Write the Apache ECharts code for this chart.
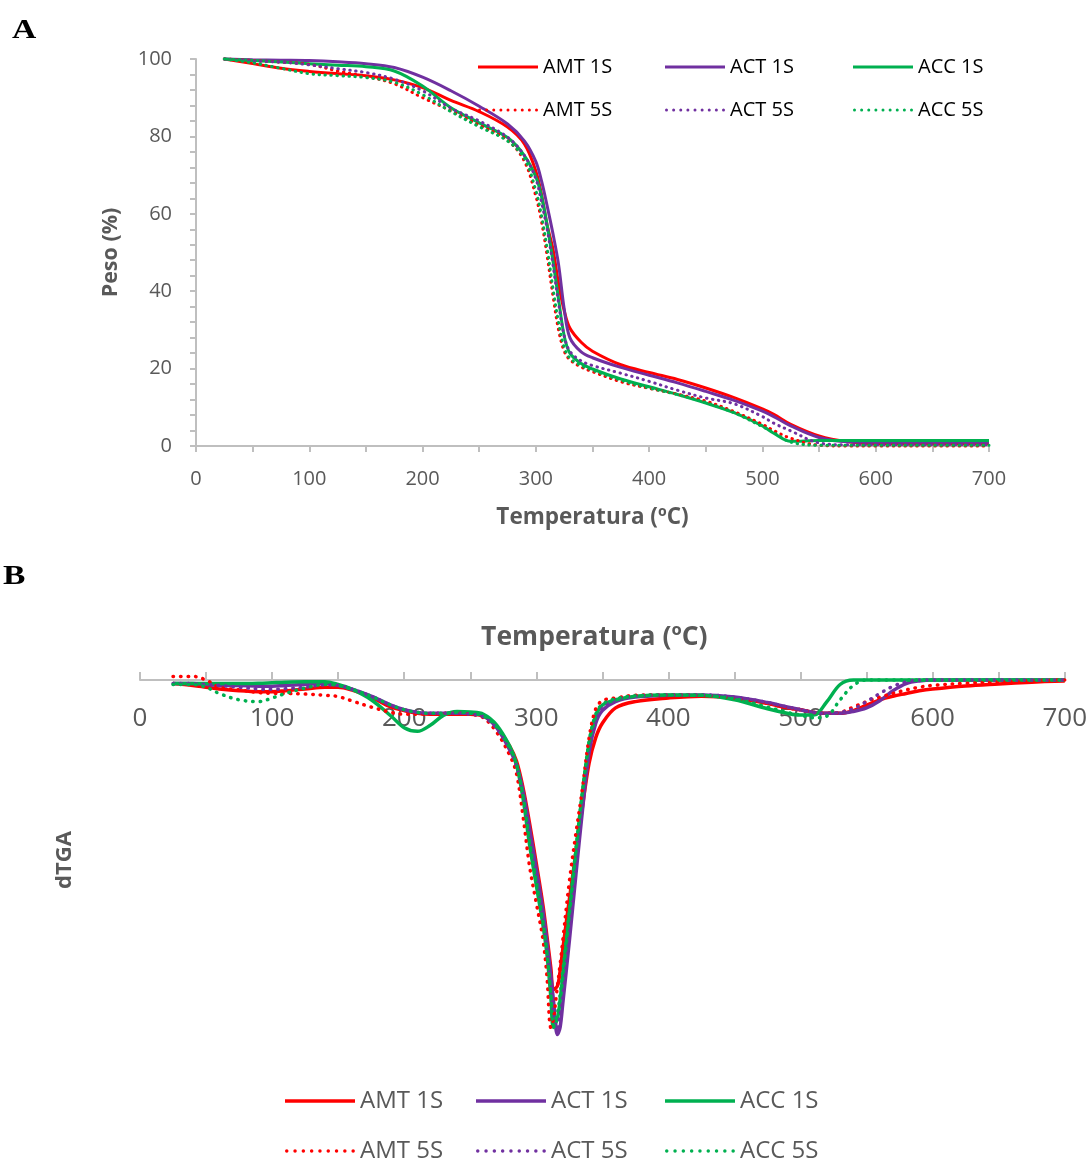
<!DOCTYPE html>
<html>
<head>
<meta charset="utf-8">
<script src="https://cdn.jsdelivr.net/npm/echarts@6/dist/echarts.min.js"></script>
<style>
html,body{margin:0;padding:0;background:#fff;}
#chart{width:1090px;height:1160px;}
</style>
</head>
<body>
<div id="chart"></div>
<script>
// ---------- Panel A : TGA (Peso %) ----------
const TEMP_A = [25,50,75,100,125,150,175,200,225,250,275,290,300,305,310,315,320,325,330,340,350,375,400,425,450,475,500,510,525,550,575,600,650,700];
const AMT_1S_A = [100,98.8,97.6,96.8,96.2,95.7,94.6,92.6,89.3,86.4,82.4,78.0,71.0,65.0,57.0,51.0,42.0,35.0,30.5,26.8,24.5,21.0,19.0,17.2,15.0,12.5,9.6,8.2,5.6,2.6,1.1,0.6,0.6,0.6];
const ACT_1S_A = [100,99.8,99.7,99.6,99.3,98.8,97.8,95.3,91.8,87.8,83.2,78.8,73.5,68.5,62.0,55.0,47.0,35.5,28.0,24.3,22.8,20.3,18.3,16.3,14.1,11.8,9.0,7.6,5.2,2.2,1.1,1.0,1.0,1.0];
const ACC_1S_A = [100,99.6,99.2,98.8,98.4,98.0,96.9,93.0,87.4,83.5,79.7,75.0,69.5,64.5,57.0,48.0,38.0,28.5,24.0,21.3,19.9,17.3,15.3,13.3,11.1,8.6,5.2,3.3,1.2,1.4,1.4,1.4,1.4,1.4];
const AMT_5S_A = [100,99.6,99.2,98.6,96.9,95.5,93.6,90.0,86.6,82.9,79.0,73.5,64.5,58.0,49.0,39.0,30.0,24.5,22.3,20.4,19.2,16.6,14.9,13.4,11.6,8.9,5.6,4.0,2.0,0.2,0,0,0,0];
const ACT_5S_A = [100,99.5,99.2,98.5,97.5,96.5,94.8,91.8,87.3,84.0,79.8,75.0,69.0,63.0,56.0,47.0,37.0,28.5,24.5,22.0,20.8,18.8,16.7,14.4,12.4,10.9,7.6,5.9,3.9,0.8,0.3,0.3,0.3,0.3];
const ACC_5S_A = [100,99.0,97.6,96.2,95.7,95.2,94.0,90.8,86.4,82.5,78.8,74.2,66.0,59.5,51.0,41.0,32.0,25.5,22.7,20.8,19.6,17.0,15.0,13.3,11.2,8.6,5.0,3.5,1.0,0.2,0.2,0.2,0.2,0.2];

// ---------- Panel B : dTGA ----------
const TEMP_B = [25,40,50,60,75,90,100,110,125,140,150,160,175,190,200,210,220,230,240,250,260,270,280,285,290,295,300,305,308,311,313,316,318,320,325,330,335,340,345,350,360,375,400,425,450,475,490,500,510,520,530,540,550,560,570,580,590,600,625,650,675,700];
const AMT_1S_B = [-0.02,-0.03,-0.04,-0.05,-0.06,-0.065,-0.065,-0.06,-0.05,-0.04,
  -0.04,-0.055,-0.095,-0.15,-0.17,-0.185,-0.19,-0.19,-0.19,-0.19,
  -0.20,-0.26,-0.37,-0.45,-0.60,-0.80,-1.02,-1.25,-1.42,-1.60,
  -1.72,-1.70,-1.62,-1.50,-1.22,-0.96,-0.70,-0.46,-0.32,-0.24,
  -0.155,-0.12,-0.10,-0.09,-0.10,-0.13,-0.155,-0.165,-0.18,-0.185,
  -0.185,-0.17,-0.14,-0.11,-0.09,-0.075,-0.06,-0.05,-0.033,-0.022,
  -0.012,-0.005];
const ACT_1S_B = [-0.02,-0.02,-0.025,-0.03,-0.03,-0.035,-0.035,-0.03,-0.025,-0.02,
  -0.03,-0.05,-0.09,-0.14,-0.165,-0.18,-0.185,-0.185,-0.185,-0.185,
  -0.20,-0.265,-0.39,-0.47,-0.62,-0.83,-1.05,-1.28,-1.45,-1.64,
  -1.78,-1.97,-1.93,-1.80,-1.45,-1.08,-0.72,-0.40,-0.24,-0.17,
  -0.12,-0.095,-0.085,-0.083,-0.095,-0.125,-0.15,-0.165,-0.18,-0.185,
  -0.185,-0.175,-0.155,-0.115,-0.06,-0.02,-0.005,0,0,0,
  0,0];
const ACC_1S_B = [-0.02,-0.02,-0.02,-0.02,-0.02,-0.018,-0.015,-0.012,-0.01,-0.01,
  -0.025,-0.05,-0.11,-0.20,-0.265,-0.285,-0.25,-0.195,-0.175,-0.178,
  -0.19,-0.25,-0.37,-0.47,-0.66,-0.92,-1.14,-1.36,-1.52,-1.76,
  -1.93,-1.88,-1.78,-1.65,-1.30,-0.95,-0.62,-0.35,-0.20,-0.14,
  -0.11,-0.09,-0.083,-0.085,-0.11,-0.16,-0.185,-0.195,-0.195,-0.12,
  -0.025,0,0,0,0,0,0,0,0,0,
  0,0];
const AMT_5S_B = [0.02,0.02,0.0,-0.04,-0.055,-0.07,-0.074,-0.075,-0.078,-0.085,
  -0.092,-0.115,-0.15,-0.18,-0.19,-0.19,-0.188,-0.185,-0.185,-0.19,
  -0.21,-0.29,-0.42,-0.52,-0.76,-1.04,-1.24,-1.44,-1.64,-1.93,
  -1.88,-1.70,-1.58,-1.45,-1.12,-0.85,-0.60,-0.32,-0.16,-0.115,
  -0.10,-0.085,-0.083,-0.085,-0.10,-0.13,-0.155,-0.165,-0.18,-0.185,
  -0.18,-0.15,-0.12,-0.095,-0.075,-0.055,-0.04,-0.03,-0.018,-0.01,
  -0.003,0];
const ACT_5S_B = [-0.02,-0.02,-0.025,-0.03,-0.04,-0.05,-0.052,-0.048,-0.04,-0.028,
  -0.03,-0.05,-0.09,-0.14,-0.165,-0.18,-0.185,-0.185,-0.185,-0.19,
  -0.205,-0.27,-0.39,-0.48,-0.64,-0.86,-1.08,-1.32,-1.50,-1.70,
  -1.85,-1.94,-1.86,-1.74,-1.40,-1.03,-0.68,-0.38,-0.22,-0.15,
  -0.11,-0.09,-0.083,-0.083,-0.095,-0.125,-0.15,-0.165,-0.18,-0.185,
  -0.18,-0.16,-0.12,-0.075,-0.035,-0.01,0,0,0,0,
  0,0];
const ACC_5S_B = [-0.025,-0.025,-0.04,-0.075,-0.11,-0.12,-0.10,-0.075,-0.045,-0.025,
  -0.03,-0.05,-0.09,-0.14,-0.165,-0.18,-0.185,-0.185,-0.18,-0.185,
  -0.20,-0.26,-0.38,-0.47,-0.65,-0.90,-1.12,-1.34,-1.52,-1.75,
  -1.92,-1.85,-1.75,-1.62,-1.28,-0.94,-0.62,-0.34,-0.19,-0.135,
  -0.105,-0.088,-0.083,-0.085,-0.105,-0.15,-0.18,-0.195,-0.21,-0.20,
  -0.11,-0.03,0,0,0,0,0,0,0,0,
  0,0];

const NAMES = ['AMT 1S','ACT 1S','ACC 1S','AMT 5S','ACT 5S','ACC 5S'];
const COLORS = ['#FF0000','#7030A0','#00B050','#FF0000','#7030A0','#00B050'];
const DATA_A = [AMT_1S_A, ACT_1S_A, ACC_1S_A, AMT_5S_A, ACT_5S_A, ACC_5S_A];
const DATA_B = [AMT_1S_B, ACT_1S_B, ACC_1S_B, AMT_5S_B, ACT_5S_B, ACC_5S_B];

const FONT = '"Open Sans"';
const AXIS_GRAY = '#BFBFBF';
const TEXT_GRAY = '#595959';

function mkSeries(idx, name, temps, arr, color, dotted, width, dotDash){
  return {
    name: name, type:'line', xAxisIndex: idx, yAxisIndex: idx,
    data: temps.map((t,i)=>[t, arr[i]]),
    smooth: 0.35, showSymbol:false, symbol:'none', clip:false,
    lineStyle:{color:color, width:width, type: dotted ? dotDash : 'solid', cap: dotted ? 'round':'butt'},
    itemStyle:{color:color}, z: dotted ? 3 : 2
  };
}
const series = [];
for (let i=0;i<6;i++) series.push(mkSeries(0, NAMES[i], TEMP_A, DATA_A[i], COLORS[i], i>=3, 3, [0.5,5.5]));
for (let i=0;i<6;i++) series.push(mkSeries(1, NAMES[i], TEMP_B, DATA_B[i], COLORS[i], i>=3, 3.5, [0.5,7]));

// legend icons (line samples) as paths
function solidIcon(w, h){ return 'path://M0,0H' + w + 'V' + h + 'H0Z'; }
function dotIcon(n, d, period){
  const r = d/2; let p = 'path://';
  for (let k=0;k<n;k++){
    const cx = r + k*period;
    p += 'M' + (cx-r) + ',' + r + 'a' + r + ',' + r + ' 0 1,0 ' + d + ',0a' + r + ',' + r + ' 0 1,0 ' + (-d) + ',0Z';
  }
  return p;
}
function legendItem(left, top, i, fs, lh, iw, th, textColor, nDots, period){
  return {
    orient:'horizontal', left:left, top:top, padding:0, selectedMode:false,
    itemWidth:iw, itemHeight:th, itemGap:0,
    textStyle:{fontFamily:FONT, fontSize:fs, lineHeight:lh, color:textColor},
    data:[{name:NAMES[i], icon: i>=3 ? dotIcon(nDots, th, period) : solidIcon(iw, th),
           itemStyle:{color:COLORS[i], borderWidth:0}}]
  };
}
const legends = [];
const colA = [478, 665, 853], rowA = [57, 100];
const colB = [285, 476, 665], rowB = [1088, 1138];
for (let i=0;i<6;i++){
  const c = i%3, r = Math.floor(i/3);
  legends.push(legendItem(colA[c], rowA[r], i, 20, 20, 60, 3, '#000', 9, 7.125));
}
for (let i=0;i<6;i++){
  const c = i%3, r = Math.floor(i/3);
  legends.push(legendItem(colB[c], rowB[r], i, 24, 26, 70, 3.5, TEXT_GRAY, 9, 8.3));
}

const option = {
  animation:false,
  backgroundColor:'#fff',
  graphic:[
    {type:'text', left:12, top:17, scaleX:1.2, originX:12, originY:17,
     style:{text:'A', font:'bold 28px "Liberation Serif"', fill:'#000'}},
    {type:'text', left:3, top:563, scaleX:1.2, originX:3, originY:563,
     style:{text:'B', font:'bold 28px "Liberation Serif"', fill:'#000'}}
  ],
  grid:[
    {left:196, top:59, width:793, height:387},
    {left:140, top:680, width:926, height:360}
  ],
  xAxis:[
    {gridIndex:0, type:'value', min:0, max:700, interval:100, position:'bottom',
     name:'Temperatura (ºC)', nameLocation:'middle', nameGap:60,
     nameTextStyle:{fontFamily:FONT, fontSize:22.5, fontWeight:'bold', color:TEXT_GRAY},
     axisLine:{show:true, lineStyle:{color:AXIS_GRAY, width:2}},
     axisTick:{show:true, length:6, lineStyle:{color:AXIS_GRAY, width:2}},
     minorTick:{show:true, splitNumber:2, length:6, lineStyle:{color:AXIS_GRAY, width:2}},
     axisLabel:{fontFamily:FONT, fontSize:20, color:TEXT_GRAY, margin:23},
     splitLine:{show:false}},
    {gridIndex:1, type:'value', min:0, max:700, interval:100, position:'top',
     name:'Temperatura (ºC)', nameLocation:'middle', nameGap:29,
     nameTextStyle:{fontFamily:FONT, fontSize:26.5, fontWeight:'bold', color:TEXT_GRAY, padding:[0,16,0,0]},
     axisLine:{show:true, onZero:false, lineStyle:{color:AXIS_GRAY, width:2}},
     axisTick:{show:true, length:8, lineStyle:{color:AXIS_GRAY, width:2}},
     minorTick:{show:true, splitNumber:2, length:8, lineStyle:{color:AXIS_GRAY, width:2}},
     axisLabel:{inside:true, fontFamily:FONT, fontSize:26, color:TEXT_GRAY, margin:26},
     splitLine:{show:false}}
  ],
  yAxis:[
    {gridIndex:0, type:'value', min:0, max:100, interval:20,
     name:'Peso (%)', nameLocation:'middle', nameGap:74,
     nameTextStyle:{fontFamily:FONT, fontSize:21.5, fontWeight:'bold', color:TEXT_GRAY},
     axisLine:{show:true, lineStyle:{color:AXIS_GRAY, width:2}},
     axisTick:{show:true, length:6, lineStyle:{color:AXIS_GRAY, width:2}},
     minorTick:{show:true, splitNumber:5, length:6, lineStyle:{color:AXIS_GRAY, width:2}},
     axisLabel:{fontFamily:FONT, fontSize:20, color:TEXT_GRAY, margin:24},
     splitLine:{show:false}},
    {gridIndex:1, type:'value', min:-2, max:0,
     name:'dTGA', nameLocation:'middle', nameGap:64,
     nameTextStyle:{fontFamily:FONT, fontSize:22, fontWeight:'bold', color:TEXT_GRAY},
     axisLine:{show:false}, axisTick:{show:false}, axisLabel:{show:false}, splitLine:{show:false}}
  ],
  legend: legends,
  series: series
};
const chart = echarts.init(document.getElementById('chart'), null, {renderer:'canvas'});
chart.setOption(option);
</script>
</body>
</html>
